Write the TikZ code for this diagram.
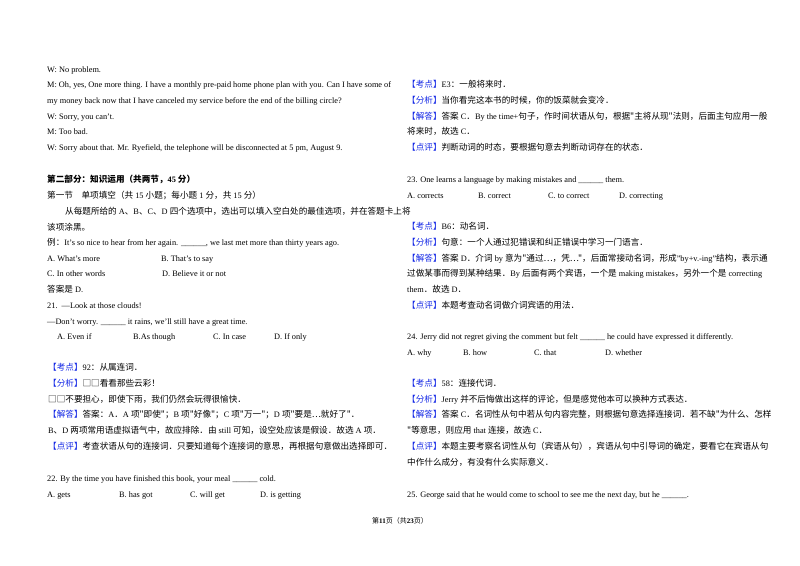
\documentclass[tikz,border=0pt]{standalone}
\usepackage{fontspec}
\setmainfont{Liberation Serif}
\newfontfamily\cjk{Noto Sans CJK SC}
\definecolor{lblue}{RGB}{20,40,230}
\newcommand{\zh}[1]{{\cjk\fontsize{8.6}{10}\selectfont #1}}
\newcommand{\lbl}[1]{\textcolor{lblue}{\zh{【#1】}}}
\begin{document}
\begin{tikzpicture}[x=1pt,y=-1pt,
  t/.style={anchor=base west,inner sep=0pt,yshift=-3pt,font=\fontsize{8.3}{10}\selectfont}]
\useasboundingbox[fill=white] (0,0) rectangle (800,565);
% left column
\node[t] (l1) at (47,69) {W: No problem.};
\node[t] (l2) at (47,84) {M: Oh, yes, One more thing. I have a monthly pre-paid home phone plan with you. Can I have some of};
\node[t] (l3) at (47,100) {my money back now that I have canceled my service before the end of the billing circle?};
\node[t] (l4) at (47,116) {W: Sorry, you can't.};
\node[t] (l5) at (47,131) {M: Too bad.};
\node[t] (l6) at (47,147) {W: Sorry about that. Mr. Ryefield, the telephone will be disconnected at 5 pm, August 9.};
\node[t] (l7) at (47,179) {\zh{\bfseries 第二部分：知识运用（共两节，}\textbf{45} \zh{\bfseries 分）}};
\node[t] (l8) at (47,195) {\zh{第一节\quad 单项填空（共} 15 \zh{小题；每小题} 1 \zh{分，共} 15 \zh{分）}};
\node[t] (l9) at (65,211) {\zh{从每题所给的} A\zh{、}B\zh{、}C\zh{、}D \zh{四个选项中，选出可以填入空白处的最佳选项，并在答题卡上将}};
\node[t] (l10) at (47,227) {\zh{该项涂黑。}};
\node[t] (l11) at (47,242) {\zh{例：}It's so nice to hear from her again. \_\_\_\_\_\_, we last met more than thirty years ago.};
\node[t] (l12a) at (47,258) {A. What's more};
\node[t] (l12b) at (161,258) {B. That's to say};
\node[t] (l13a) at (47,273) {C. In other words};
\node[t] (l13b) at (162,273) {D. Believe it or not};
\node[t] (l14) at (47,289) {\zh{答案是} D.};
\node[t] (l15) at (47,305) {21.\ \ ---Look at those clouds!};
\node[t] (l16) at (47,321) {---Don't worry. \_\_\_\_\_\_ it rains, we'll still have a great time.};
\node[t] (l17a) at (57,336) {A. Even if};
\node[t] (l17b) at (133,336) {B.As though};
\node[t] (l17c) at (213,336) {C. In case};
\node[t] (l17d) at (274,336) {D. If only};
\node[t] (l18) at (48,367) {\lbl{考点}92\zh{：从属连词．}};
\node[t] (l19) at (48,383) {\lbl{分析}\zh{□□看看那些云彩！}};
\node[t] (l20) at (48,399) {\zh{□□不要担心，即使下雨，我们仍然会玩得很愉快．}};
\node[t] (l21) at (48,414) {\lbl{解答}\zh{答案：}A\zh{．}A \zh{项"即使"；}B \zh{项"好像"；}C \zh{项"万一"；}D \zh{项"要是…就好了"．}};
\node[t] (l22) at (48,430) {B\zh{、}D \zh{两项常用语虚拟语气中，故应排除．由} still \zh{可知，设空处应该是假设．故选} A \zh{项．}};
\node[t] (l23) at (48,446) {\lbl{点评}\zh{考查状语从句的连接词．只要知道每个连接词的意思，再根据句意做出选择即可．}};
\node[t] (l24) at (47,478) {22. By the time you have finished this book, your meal \_\_\_\_\_\_ cold.};
\node[t] (l25a) at (47,494) {A. gets};
\node[t] (l25b) at (119,494) {B. has got};
\node[t] (l25c) at (190,494) {C. will get};
\node[t] (l25d) at (260,494) {D. is getting};
\node[anchor=center,inner sep=0pt,font=\fontsize{7}{8}\selectfont] (foot) at (400,521) {\zh{\fontsize{7}{8}\selectfont 第}\textbf{11}\zh{\fontsize{7}{8}\selectfont 页（共}\textbf{23}\zh{\fontsize{7}{8}\selectfont 页）}};
% right column
\node[t] (r1) at (407,84) {\lbl{考点}E3\zh{：一般将来时．}};
\node[t] (r2) at (407,100) {\lbl{分析}\zh{当你看完这本书的时候，你的饭菜就会变冷．}};
\node[t] (r3) at (407,116) {\lbl{解答}\zh{答案} C\zh{．}By the time+\zh{句子，作时间状语从句，根据"主将从现"法则，后面主句应用一般}};
\node[t] (r4) at (407,131) {\zh{将来时，故选} C\zh{．}};
\node[t] (r5) at (407,147) {\lbl{点评}\zh{判断动词的时态，要根据句意去判断动词存在的状态．}};
\node[t] (r6) at (407,179) {23. One learns a language by making mistakes and \_\_\_\_\_\_ them.};
\node[t] (r7a) at (407,195) {A. corrects};
\node[t] (r7b) at (478,195) {B. correct};
\node[t] (r7c) at (548,195) {C. to correct};
\node[t] (r7d) at (619,195) {D. correcting};
\node[t] (r8) at (407,226) {\lbl{考点}B6\zh{：动名词．}};
\node[t] (r9) at (407,242) {\lbl{分析}\zh{句意：一个人通过犯错误和纠正错误中学习一门语言．}};
\node[t] (r10) at (407,258) {\lbl{解答}\zh{答案} D\zh{．介词} by \zh{意为"通过…，凭…"，后面常接动名词，形成}"by+v.-ing"\zh{结构，表示通}};
\node[t] (r11) at (407,273) {\zh{过做某事而得到某种结果．}By \zh{后面有两个宾语，一个是} making mistakes\zh{，另外一个是} correcting};
\node[t] (r12) at (407,289) {them\zh{．故选} D\zh{．}};
\node[t] (r13) at (407,305) {\lbl{点评}\zh{本题考查动名词做介词宾语的用法．}};
\node[t] (r14) at (407,336) {24. Jerry did not regret giving the comment but felt \_\_\_\_\_\_ he could have expressed it differently.};
\node[t] (r15a) at (407,352) {A. why};
\node[t] (r15b) at (463,352) {B. how};
\node[t] (r15c) at (534,352) {C. that};
\node[t] (r15d) at (605,352) {D. whether};
\node[t] (r16) at (407,383) {\lbl{考点}58\zh{：连接代词．}};
\node[t] (r17) at (407,399) {\lbl{分析}Jerry \zh{并不后悔做出这样的评论，但是感觉他本可以换种方式表达．}};
\node[t] (r18) at (407,414) {\lbl{解答}\zh{答案} C\zh{．名词性从句中若从句内容完整，则根据句意选择连接词．若不缺"为什么、怎样}};
\node[t] (r19) at (407,430) {\zh{"等意思，则应用} that \zh{连接，故选} C\zh{．}};
\node[t] (r20) at (407,446) {\lbl{点评}\zh{本题主要考察名词性从句（宾语从句），宾语从句中引导词的确定，要看它在宾语从句}};
\node[t] (r21) at (407,462) {\zh{中作什么成分，有没有什么实际意义．}};
\node[t] (r22) at (407,494) {25. George said that he would come to school to see me the next day, but he \_\_\_\_\_\_.};
\end{tikzpicture}
\end{document}
